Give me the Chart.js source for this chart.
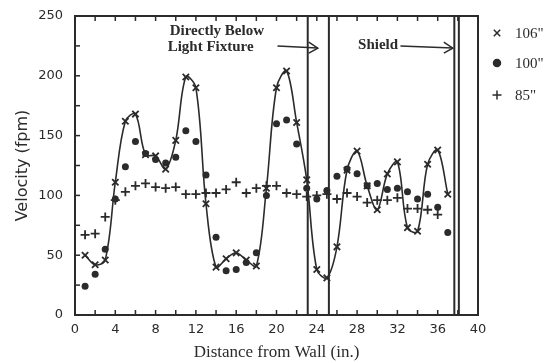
<!DOCTYPE html>
<html><head><meta charset="utf-8">
<script src="https://cdn.jsdelivr.net/npm/chart.js@4.4.1/dist/chart.umd.min.js"></script>
<style>html,body{margin:0;padding:0;background:#fff}#wrap{width:559px;height:363px;position:relative}</style>
</head><body><div id="wrap"><canvas id="c" width="559" height="363"></canvas></div>
<script>
const positions = [1,2,3,4,5,6,7,8,9,10,11,12,13,14,15,16,17,18,19,20,21,22,23,24,25,26,27,28,29,30,31,32,33,34,35,36,37];
const v106 = [50,42,46,111,162,168,134,133,122,146,199,190,93,40,47,52,46,41,106,190,204,161,113,38,31,57,121,137,108,88,118,128,73,70,126,138,101];
const v100 = [24,34,55,97,124,145,135,130,127,132,154,145,117,65,37,38,44,52,100,160,163,143,106,97,104,116,122,118,108,110,105,106,103,97,101,90,69];
const v85  = [67,68,82,96,103,108,110,107,106,107,101,101,102,102,105,111,102,106,108,108,102,101,99,100,101,97,102,99,94,96,96,98,89,89,88,84];
const seriesNames = ['106"', '100"', '85"'];
const dividers = [23.1, 25.2, 37.65, 38.1];
const xTickLabels = [0,4,8,12,16,20,24,28,32,36,40];
const yTickLabels = [0,50,100,150,200,250];
const annotations = [
  {lines:['Directly Below','Light Fixture'], x:9.2, y:[237,224], arrowFrom:20.1, arrowTo:24.1, arrowY:224},
  {lines:['Shield'], x:28.1, y:[226], arrowFrom:32.3, arrowTo:37.5, arrowY:224}
];

const ink = '#2b2b2b';
const pts = (vals) => vals.map((v,i)=>({x:positions[i], y:v}));

const framePlugin = {
  id:'frame',
  afterDatasetsDraw(chart){
    const {ctx, chartArea:a, scales:{x,y}} = chart;
    ctx.save();
    ctx.strokeStyle = ink;
    ctx.lineWidth = 2;
    dividers.forEach(d=>{
      const px = x.getPixelForValue(d);
      ctx.beginPath(); ctx.moveTo(px, a.top); ctx.lineTo(px, a.bottom); ctx.stroke();
    });
    ctx.lineWidth = 2;
    ctx.strokeRect(a.left, a.top, a.right-a.left, a.bottom-a.top);
    ctx.lineWidth = 1.5;
    for(let v=0; v<=40; v+=2){
      const px = x.getPixelForValue(v);
      ctx.beginPath(); ctx.moveTo(px, a.bottom); ctx.lineTo(px, a.bottom-5);
      ctx.moveTo(px, a.top); ctx.lineTo(px, a.top+5); ctx.stroke();
    }
    for(let v=0; v<=250; v+=25){
      const py = y.getPixelForValue(v);
      ctx.beginPath(); ctx.moveTo(a.left, py); ctx.lineTo(a.left+5, py); ctx.stroke();
    }
    ctx.fillStyle = ink;
    ctx.font = 'bold 15px "Liberation Serif"';
    ctx.textBaseline = 'middle';
    ctx.textAlign = 'left';
    annotations.forEach(an=>{
      an.lines.forEach((t,i)=>{
        let tx = x.getPixelForValue(an.x);
        if(i===0 && an.lines.length>1) tx += 2;
        ctx.fillText(t, tx, y.getPixelForValue(an.y[i]));
      });
      const x0 = x.getPixelForValue(an.arrowFrom), x1 = x.getPixelForValue(an.arrowTo), ay = y.getPixelForValue(an.arrowY);
      ctx.lineWidth = 1.5;
      ctx.beginPath(); ctx.moveTo(x0, ay-1); ctx.lineTo(x1, ay+1); ctx.stroke();
      ctx.beginPath(); ctx.moveTo(x1-9, ay-5); ctx.lineTo(x1, ay+1); ctx.lineTo(x1-9, ay+6); ctx.stroke();
    });
    ctx.font = '15px "Liberation Serif"';
    ctx.textAlign = 'left';
    const ly = [33, 63, 95];
    chart.data.datasets.forEach((ds,i)=>{
      Chart.helpers.drawPoint(ctx, {pointStyle: ds.pointStyle, radius: ds.pointRadius, borderWidth: ds.pointBorderWidth||2, rotation:0}, 497, ly[i]);
      ctx.fillStyle = ink;
      ctx.fillText(ds.label, 515, ly[i]+1);
    });
    ctx.restore();
  }
};

const common = {borderColor: ink, backgroundColor: ink, pointBorderColor: ink, pointBackgroundColor: ink};
new Chart(document.getElementById('c'), {
  type: 'scatter',
  data: { datasets: [
    {...common, label: seriesNames[0], data: pts(v106), showLine: true, tension: 0.35, borderWidth: 1.6, pointStyle: 'crossRot', pointRadius: 4.5, pointBorderWidth: 1.8},
    {...common, label: seriesNames[1], data: pts(v100), showLine: false, pointStyle: 'circle', pointRadius: 3.5, pointBorderWidth: 0},
    {...common, label: seriesNames[2], data: pts(v85), showLine: false, pointStyle: 'cross', pointRadius: 4.5, pointBorderWidth: 1.8}
  ]},
  options: {
    responsive: false, animation: false, events: [],
    layout: {padding: {top: 16, right: 81, left: 0, bottom: 0}},
    plugins: {legend: {display: false}, tooltip: {enabled: false}},
    scales: {
      x: {type:'linear', min: 0, max: 40,
        afterBuildTicks: s => { s.ticks = xTickLabels.map(v=>({value:v})); },
        afterFit: s => { s.height = 48; s.paddingLeft = 0; s.paddingRight = 0; },
        grid: {display: false, drawTicks: false}, border: {display: false},
        ticks: {padding: 7, color: ink, font: {family: 'DejaVu Sans', size: 13}, maxRotation: 0, autoSkip: false},
        title: {display: true, text: 'Distance from Wall (in.)', color: ink, font: {family: 'Liberation Serif', size: 17}, padding: {top: 3, bottom: 0}}
      },
      y: {min: 0, max: 250,
        afterBuildTicks: s => { s.ticks = yTickLabels.map(v=>({value:v})); },
        afterFit: s => { s.width = 75; s.paddingTop = 0; s.paddingBottom = 0; },
        grid: {display: false, drawTicks: false}, border: {display: false},
        ticks: {padding: 12, color: ink, font: {family: 'DejaVu Sans', size: 13}},
        title: {display: true, text: 'Velocity (fpm)', color: ink, font: {family: 'DejaVu Sans', size: 16}, padding: {top: 13, bottom: 0}}
      }
    }
  },
  plugins: [framePlugin]
});
</script></body></html>
